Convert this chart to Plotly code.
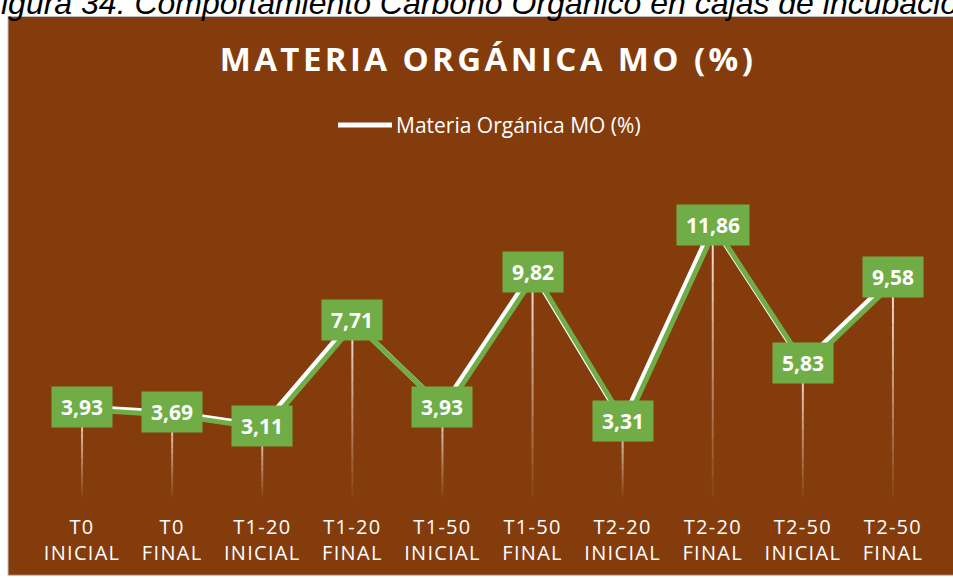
import plotly.graph_objects as go

categories = ["T0<br>INICIAL", "T0<br>FINAL", "T1-20<br>INICIAL", "T1-20<br>FINAL",
              "T1-50<br>INICIAL", "T1-50<br>FINAL", "T2-20<br>INICIAL", "T2-20<br>FINAL",
              "T2-50<br>INICIAL", "T2-50<br>FINAL"]
mo_values = [3.93, 3.69, 3.11, 7.71, 3.93, 9.82, 3.31, 11.86, 5.83, 9.58]
series_name = "Materia Orgánica MO (%)"
chart_title = "MATERIA ORGÁNICA MO (%)"
caption = "igura 34. Comportamiento Carbono Orgánico en cajas de incubación"

W, H = 953, 578
L, R, T, B = 37, 15, 176, 78
PW, PH = W - L - R, H - T - B
YMAX = 14
BROWN = "#843C0C"
GREEN = "#70AD47"

def px_x(x):
    return (x - L) / PW

def px_y(y):
    return (H - B - y) / PH

idx = list(range(len(mo_values)))
fig = go.Figure()

# gradient drop lines (built from the data values)
K = 14
for k in range(K):
    xs, ys = [], []
    for i, v in zip(idx, mo_values):
        xs += [i, i, None]
        ys += [v * (1 - k / K), v * (1 - (k + 1) / K), None]
    fig.add_trace(go.Scatter(x=xs, y=ys, mode="lines", hoverinfo="skip", showlegend=False,
                             line=dict(color="rgba(255,235,225,%.3f)" % (0.95 * (1 - k / K)), width=2)))

# shadow of the line (offset axes)
dx = 3 / (PW / len(mo_values))
dy = 3 / (PH / YMAX)
fig.add_trace(go.Scatter(x=idx, y=mo_values, mode="lines", xaxis="x2", yaxis="y2",
                         line=dict(color=GREEN, width=5), showlegend=False, hoverinfo="skip"))
fig.add_trace(go.Scatter(x=idx, y=mo_values, mode="lines", name=series_name,
                         line=dict(color="white", width=5)))

for i, v in zip(idx, mo_values):
    t = ("%.2f" % v).replace(".", ",")
    fig.add_annotation(x=i, y=v, text="<b>%s</b>" % t, showarrow=False,
                       xanchor="center", yanchor="middle", bgcolor=GREEN,
                       borderpad=6, width=12 * len(t),
                       font=dict(family="Open Sans", size=21, color="white"))

fig.add_annotation(xref="paper", yref="paper", x=px_x(-1), y=px_y(22), xanchor="left",
                   yanchor="bottom", text=caption, showarrow=False,
                   font=dict(family="Liberation Sans", size=32, color="black", style="italic"))

fig.add_shape(type="rect", xref="paper", yref="paper", layer="below",
              x0=px_x(8), x1=px_x(954), y0=px_y(579), y1=px_y(15),
              fillcolor=BROWN, line=dict(color="#BFBFBF", width=1))

fig.update_layout(
    width=W, height=H, margin=dict(l=L, r=R, t=T, b=B),
    paper_bgcolor="white", plot_bgcolor="rgba(0,0,0,0)",
    title=dict(text="<b>%s</b>" % chart_title, x=px_x(488), xref="paper", xanchor="center",
               y=1 - 59 / H, yanchor="middle",
               font=dict(family="Open Sans", size=33, color="white")),
    legend=dict(orientation="h", x=px_x(332), y=px_y(125), xanchor="left", yanchor="middle",
                itemwidth=54,
                font=dict(family="Open Sans", size=21, color="white"), bgcolor="rgba(0,0,0,0)"),
    xaxis=dict(range=[-0.5, len(mo_values) - 0.5], tickvals=idx, ticktext=categories,
               showgrid=False, zeroline=False, showline=False, ticks="",
               ticklabelstandoff=16,
               tickfont=dict(family="Open Sans", size=20, color="white")),
    yaxis=dict(range=[0, YMAX], visible=False, showgrid=False, zeroline=False),
    xaxis2=dict(range=[-0.5 - dx, len(mo_values) - 0.5 - dx], overlaying="x", visible=False),
    yaxis2=dict(range=[dy, YMAX + dy], overlaying="y", visible=False),
    showlegend=True,
)

post = """
document.body.style.margin='0';
document.body.style.overflow='hidden';
document.querySelectorAll('.gtitle').forEach(function(e){e.setAttribute('letter-spacing','3.4px');});
document.querySelectorAll('.xtick text').forEach(function(e){e.setAttribute('letter-spacing','1.3px');});
document.querySelectorAll('.legendlines path').forEach(function(e){e.setAttribute('d','M6,0h54');});
"""

fig.write_html("out.html", post_script=post, config={"displayModeBar": False})
